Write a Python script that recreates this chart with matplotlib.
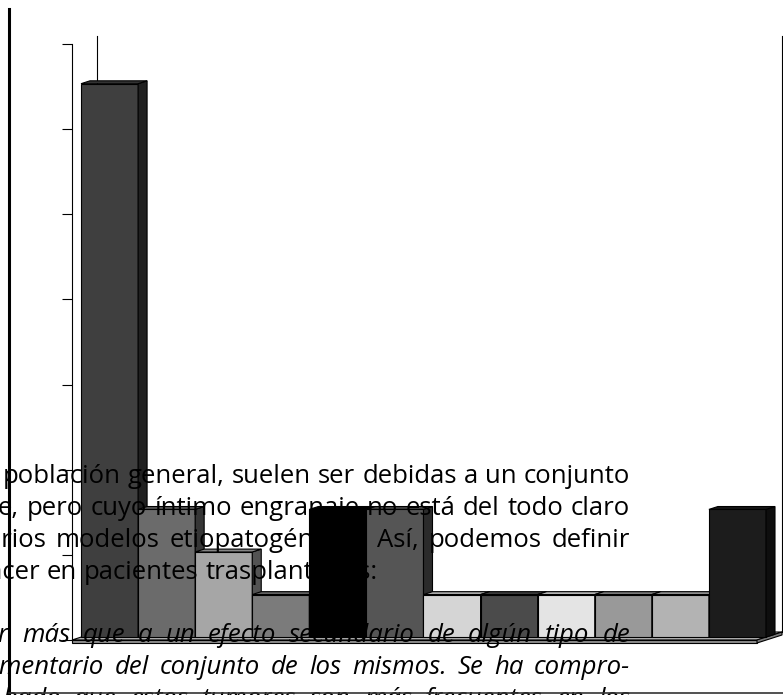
import matplotlib
matplotlib.use("Agg")
import matplotlib.pyplot as plt
import matplotlib.colors as mcolors
import matplotlib.transforms as mtransforms
from matplotlib.patches import Polygon
from matplotlib.lines import Line2D

W, H = 783, 695

# bar values, one per category, and their grey fills
values = [13, 3, 2, 1, 3, 3, 1, 1, 1, 1, 1, 3]
bar_colors = ['#3f3f3f', '#6b6b6b', '#a6a6a6', '#7b7b7b', '#000000', '#555555',
              '#d5d5d5', '#4b4b4b', '#e4e4e4', '#999999', '#b3b3b3', '#1c1c1c']
y_ticks = list(range(0, 15, 2))

# page text running across the chart
upright_lines = [
    "población general, suelen ser debidas a un conjunto",
    "e, pero cuyo íntimo engranaje no está del todo claro",
    "varios modelos etiopatogénicos. Así, podemos definir",
    "cáncer en pacientes trasplantados:",
]
italic_lines = [
    "ser más que a un efecto secundario de algún tipo de",
    "complementario del conjunto de los mismos. Se ha compro-",
    "bado que estos tumores son más frecuentes en los",
]

FONT = "Open Sans"
FS = 18.5

fig = plt.figure(figsize=(W / 100, H / 100), dpi=100)
px = mtransforms.Affine2D().scale(1, -1).translate(0, H)

# axes box in pixels: front plane of the 3d chart
ax_l, ax_r, ax_b, ax_t = 72, 757, 640, 44
ax = fig.add_axes([ax_l / W, 1 - ax_b / H, (ax_r - ax_l) / W, (ax_b - ax_t) / H])
n = len(values)
ax.set_xlim(0, n)
ax.set_ylim(0, 14)
ax.set_xticks([])
ax.set_yticks(y_ticks)
ax.tick_params(axis='y', direction='out', length=7.2, width=0.8, labelleft=False)
for s in ['top', 'right', 'bottom']:
    ax.spines[s].set_visible(False)
ax.spines['left'].set_linewidth(0.8)
ax.patch.set_alpha(0)

# depth vector (25px right, 8px up) in data units
dx = 25 / ((ax_r - ax_l) / n)
dy = 8 / ((ax_b - ax_t) / 14)
thick = 3 / ((ax_b - ax_t) / 14)


def shade(c, f):
    r, g, b = mcolors.to_rgb(c)
    return (r * f, g * f, b * f)


def poly(pts, fc, z):
    ax.add_patch(Polygon(pts, closed=True, facecolor=fc, edgecolor='black',
                         lw=0.8, clip_on=False, zorder=z))


# floor slab
poly([(0, 0), (n, 0), (n + dx, dy), (dx, dy)], '#b4b4b4', 1)
poly([(0, 0), (n, 0), (n, -thick), (0, -thick)], '#8e8e8e', 1)
poly([(n, 0), (n + dx, dy), (n + dx, dy - thick), (n, -thick)], '#7a7a7a', 1)

# back wall edges
for xe in (dx, n + dx):
    ax.add_line(Line2D([xe, xe], [dy, 14 + dy], color='black', lw=0.8,
                       clip_on=False, zorder=1.5))

# bars sit in the middle of the floor depth
d0, d1 = 0.36, 0.72
bx, by = d0 * dx, d0 * dy
sx, sy = (d1 - d0) * dx, (d1 - d0) * dy
for i, (v, c) in enumerate(zip(values, bar_colors)):
    x0, x1 = i + bx, i + 1 + bx
    z = 2 + i * 0.01
    poly([(x0, by), (x1, by), (x1, by + v), (x0, by + v)], c, z)
    poly([(x1, by), (x1 + sx, by + sy), (x1 + sx, by + v + sy), (x1, by + v)],
         shade(c, 0.5), z)
    poly([(x0, by + v), (x1, by + v), (x1 + sx, by + v + sy), (x0 + sx, by + v + sy)],
         shade(c, 0.8), z)

renderer = fig.canvas.get_renderer()


def text_width(s, style):
    t = fig.text(0, 0, s, transform=px, fontsize=FS, family=FONT, style=style)
    w = t.get_window_extent(renderer).width
    t.remove()
    return w


def place_line(line, y, x_start, x_end=None, lead='', style='normal'):
    words = line.split()
    arts = [fig.text(0, y, w, transform=px, fontsize=FS, family=FONT, style=style,
                     va='baseline', ha='left', zorder=10) for w in words]
    widths = [a.get_window_extent(renderer).width for a in arts]
    x = x_start - (text_width(lead, style) if lead else 0)
    space = text_width("n n", style) - text_width("nn", style)
    if x_end is None:
        gap = space
    else:
        gap = max((x_end - x - sum(widths)) / (len(words) - 1), 0.6 * space)
    for a, w in zip(arts, widths):
        a.set_x(x)
        x += w + gap


place_line(upright_lines[0], 483, 3, 630)
place_line(upright_lines[1], 515, -2, 630)
place_line(upright_lines[2], 547, 1, 630, lead="va")
place_line(upright_lines[3], 579, 3, None, lead="cán")
place_line(italic_lines[0], 642, -1, 630, lead="se", style='italic')
place_line(italic_lines[1], 674, 0, 630, lead="comple", style='italic')
place_line(italic_lines[2], 706, 2, 630, style='italic')

# page margin rule and bottom rule
fig.add_artist(Line2D([9, 9], [9, H], transform=px, color='black', lw=2.2, zorder=11))
fig.add_artist(Line2D([9, W], [693, 693], transform=px, color='#333333', lw=1.2, zorder=11))

fig.savefig("out.png", dpi=100)
